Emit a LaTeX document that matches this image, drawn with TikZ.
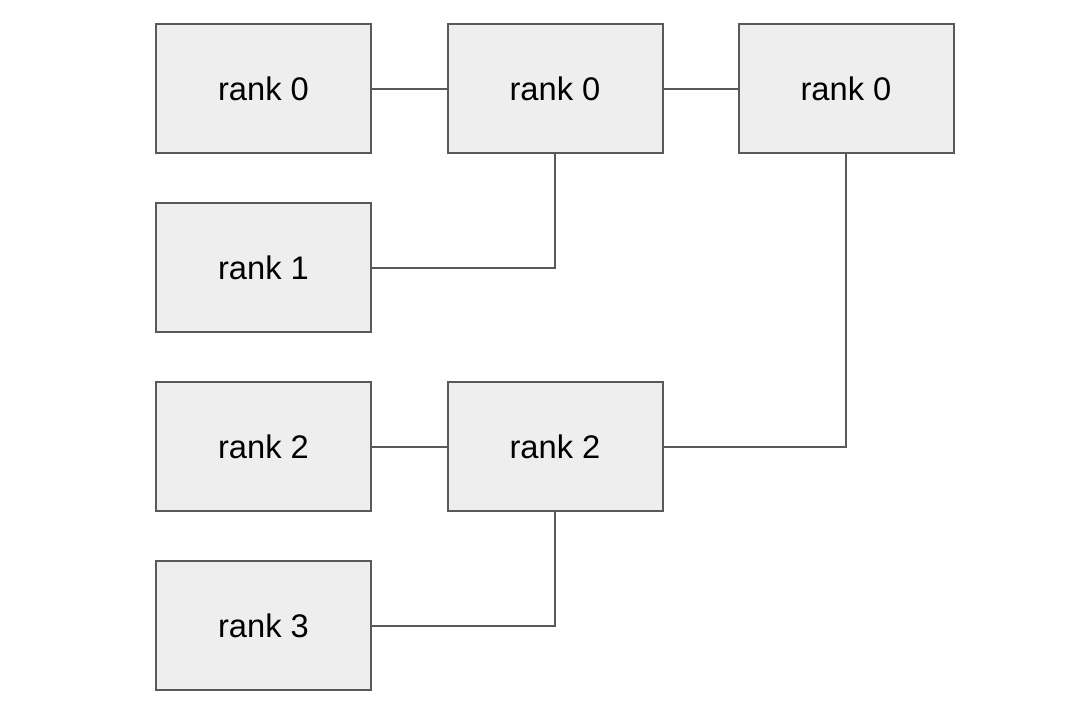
\documentclass[tikz,border=0pt]{standalone}
\usepackage{fontspec}
\setmainfont{Liberation Sans}
\definecolor{boxfill}{HTML}{EEEEEE}
\definecolor{boxline}{HTML}{595959}
\tikzset{
    rankbox/.style={draw=boxline, fill=boxfill, line width=1.5pt, minimum width=161.25pt, minimum height=96.75pt, inner sep=0pt, font=\fontsize{24.5}{29}\selectfont},
    link/.style={draw=boxline, line width=1.5pt}
}
\begin{document}
\begin{tikzpicture}[x=0.75pt, y=-0.75pt]
    \useasboundingbox (0, 0) rectangle (1092, 704);
    % first column
    \node[rankbox] (a0) at (263.5, 88.5) {rank 0};
    \node[rankbox] (a1) at (263.5, 267.5) {rank 1};
    \node[rankbox] (a2) at (263.5, 446.5) {rank 2};
    \node[rankbox] (a3) at (263.5, 625.5) {rank 3};
    % second and third column
    \node[rankbox] (b0) at (555, 88.5) {rank 0};
    \node[rankbox] (b2) at (555, 446.5) {rank 2};
    \node[rankbox] (c0) at (846, 88.5) {rank 0};
    % links
    \draw[link] (a0) -- (b0);
    \draw[link] (b0) -- (c0);
    \draw[link] (a2) -- (b2);
    \draw[link] (a1.east) -| (b0.south);
    \draw[link] (a3.east) -| (b2.south);
    \draw[link] (b2.east) -| (c0.south);
\end{tikzpicture}
\end{document}
